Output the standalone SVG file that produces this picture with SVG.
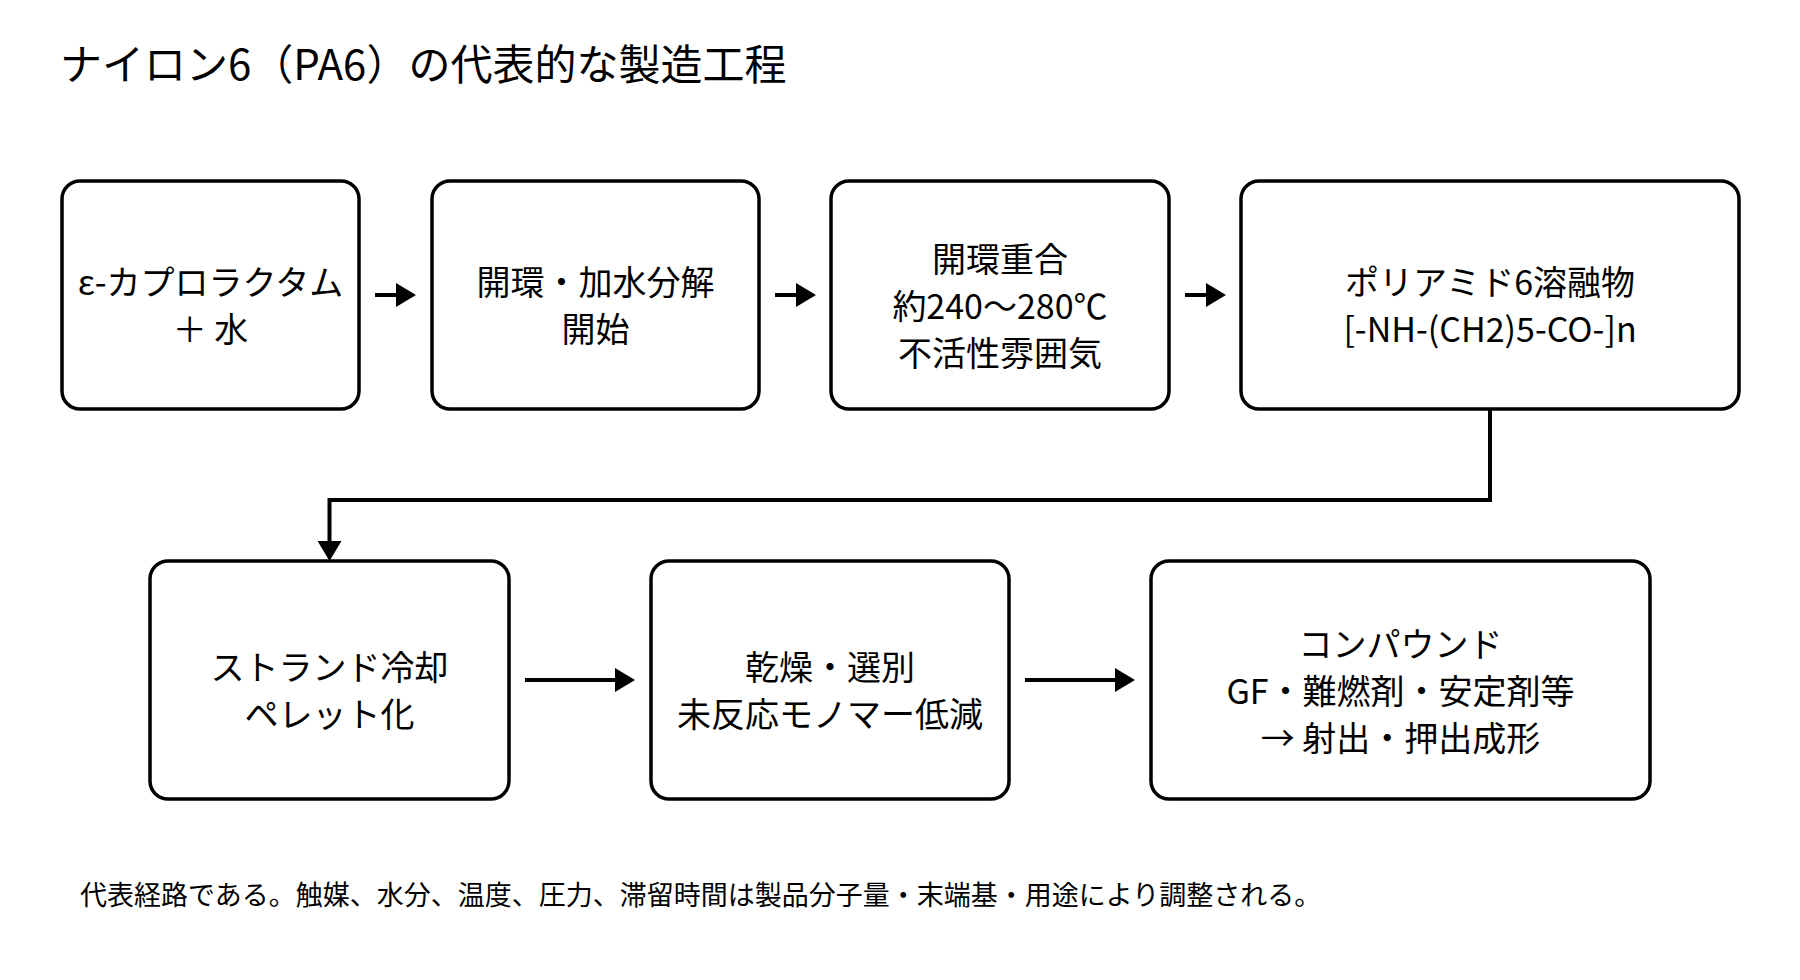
<svg xmlns="http://www.w3.org/2000/svg" width="1800" height="980" viewBox="0 0 1800 980">
  <style>
    text { font-family: "Noto Sans CJK JP", "Noto Sans", sans-serif; fill: #000; }
    .title { font-size: 42px; }
    .label { font-size: 34px; text-anchor: middle; }
    .note { font-size: 27px; }
    .box { fill: #fff; stroke: #000; stroke-width: 3.5; }
    .conn { fill: none; stroke: #000; stroke-width: 4; }
  </style>
  <defs>
    <marker id="arrow" markerUnits="userSpaceOnUse" markerWidth="20" markerHeight="24" viewBox="0 0 20 24" refX="10" refY="12" orient="auto">
      <path d="M0,0 L20,12 L0,24 Z" fill="#000"/>
    </marker>
  </defs>
  <rect width="1800" height="980" fill="#fff"/>

  <text class="title" x="60" y="80">ナイロン6（PA6）の代表的な製造工程</text>

  <g id="connectors">
    <path class="conn" d="M375,295 H406" marker-end="url(#arrow)"/>
    <path class="conn" d="M775,295 H806" marker-end="url(#arrow)"/>
    <path class="conn" d="M1185,295 H1216" marker-end="url(#arrow)"/>
    <path class="conn" d="M1490,409 V500 H329.5 V551" marker-end="url(#arrow)"/>
    <path class="conn" d="M525,680 H625" marker-end="url(#arrow)"/>
    <path class="conn" d="M1025,680 H1125" marker-end="url(#arrow)"/>
  </g>

  <g id="node1">
    <rect class="box" x="62" y="181" width="297" height="228" rx="18"/>
    <text class="label" x="210.5" y="295">ε-カプロラクタム</text>
    <text class="label" x="210.5" y="342">＋ 水</text>
  </g>
  <g id="node2">
    <rect class="box" x="432" y="181" width="327" height="228" rx="18"/>
    <text class="label" x="595.5" y="295">開環・加水分解</text>
    <text class="label" x="595.5" y="342">開始</text>
  </g>
  <g id="node3">
    <rect class="box" x="831" y="181" width="338" height="228" rx="18"/>
    <text class="label" x="1000" y="271.5">開環重合</text>
    <text class="label" x="1000" y="318.5">約240〜280℃</text>
    <text class="label" x="1000" y="365.5">不活性雰囲気</text>
  </g>
  <g id="node4">
    <rect class="box" x="1241" y="181" width="498" height="228" rx="18"/>
    <text class="label" x="1490" y="295">ポリアミド6溶融物</text>
    <text class="label" x="1490" y="342">[-NH-(CH2)5-CO-]n</text>
  </g>
  <g id="node5">
    <rect class="box" x="150" y="561" width="359" height="238" rx="18"/>
    <text class="label" x="329.5" y="680">ストランド冷却</text>
    <text class="label" x="329.5" y="727">ペレット化</text>
  </g>
  <g id="node6">
    <rect class="box" x="651" y="561" width="358" height="238" rx="18"/>
    <text class="label" x="830" y="680">乾燥・選別</text>
    <text class="label" x="830" y="727">未反応モノマー低減</text>
  </g>
  <g id="node7">
    <rect class="box" x="1151" y="561" width="499" height="238" rx="18"/>
    <text class="label" x="1400.5" y="656.5">コンパウンド</text>
    <text class="label" x="1400.5" y="703.5">GF・難燃剤・安定剤等</text>
    <text class="label" x="1400.5" y="750.5">→ 射出・押出成形</text>
  </g>

  <text class="note" x="80" y="905">代表経路である。触媒、水分、温度、圧力、滞留時間は製品分子量・末端基・用途により調整される。</text>
</svg>
